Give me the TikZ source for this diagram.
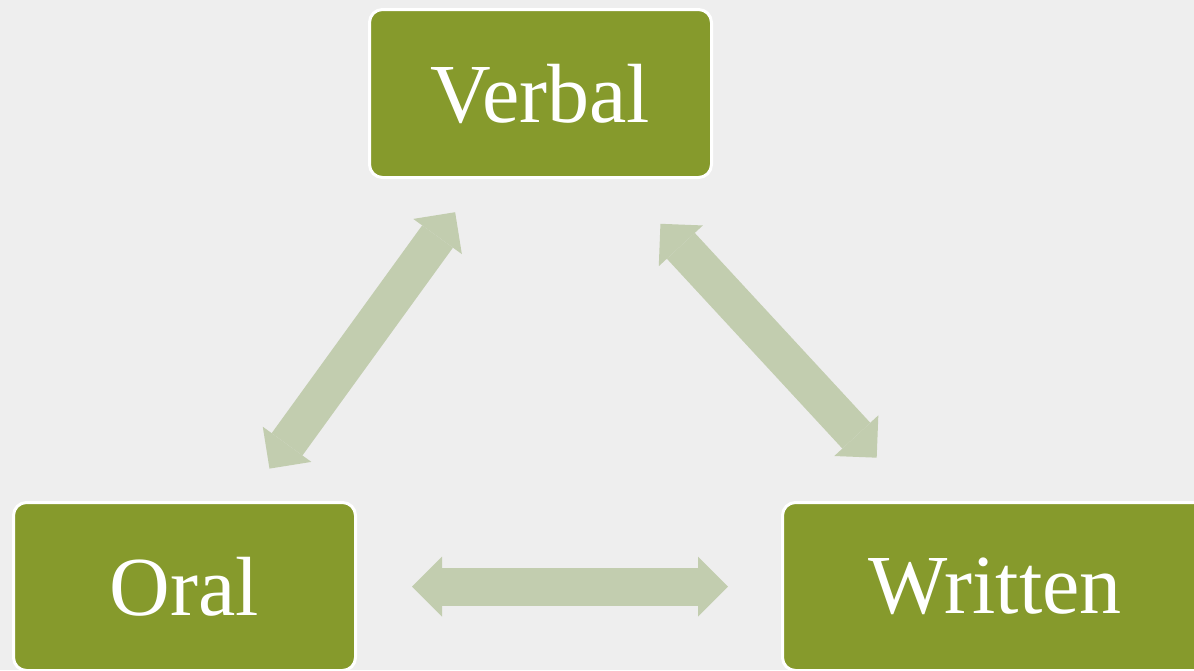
\documentclass[tikz,border=0pt]{standalone}
\usepackage{fontspec}
\setmainfont{Liberation Serif}
\usetikzlibrary{arrows.meta}
\definecolor{boxgreen}{HTML}{869A2C}
\definecolor{linkgreen}{HTML}{C2CDAF}
\definecolor{paper}{HTML}{EEEEEE}
\tikzset{
  termbox/.style={draw=white, line width=3pt, fill=boxgreen, rounded corners=13pt,
    minimum width=342pt, minimum height=168pt, text=white,
    font=\fontsize{84}{100}\selectfont},
  link/.style={draw=linkgreen, line width=38pt,
    arrows={Triangle[width=60pt,length=30pt,line width=0pt]-Triangle[width=60pt,length=30pt,line width=0pt]}}
}
\begin{document}
\begin{tikzpicture}[x=1pt,y=1pt]
  \fill[paper] (0,0) rectangle (1194,-670);
  \useasboundingbox (0,0) rectangle (1194,-670);
  \begin{scope}
    \clip (0,0) rectangle (1194,-670);
    \node[termbox] (verbal) at (540.5,-93.5) {Verbal};
    \node[termbox] (oral) at (184.5,-586.5) {Oral};
    \node[termbox, minimum width=425pt] (written) at (995,-586.5) {Written};
  \end{scope}
  % two-headed links between the three boxes
  \draw[link, shorten <=40pt, shorten >=41pt] (oral) -- (verbal);
  \draw[link, shorten <=61pt, shorten >=59pt] (verbal) -- (written);
  \draw[link, shorten <=55pt, shorten >=53pt] (oral) -- (written);
\end{tikzpicture}
\end{document}
